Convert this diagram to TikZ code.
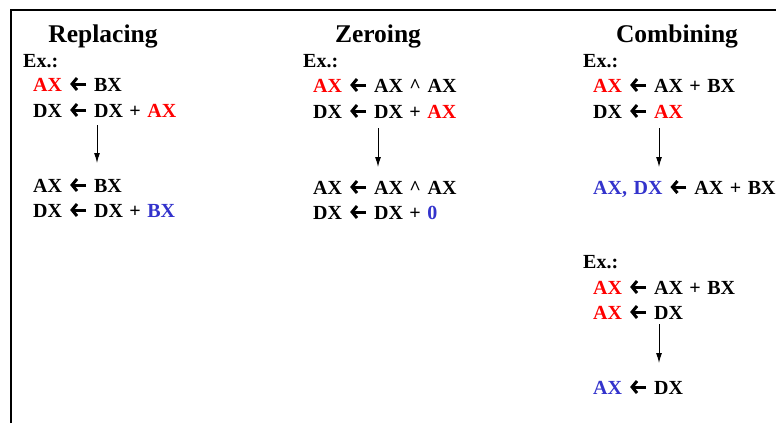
\documentclass[tikz,border=0pt]{standalone}
\usepackage{fontspec}
\setmainfont{Liberation Serif}[WordSpace=1.3]
\usetikzlibrary{arrows.meta}
\definecolor{hot}{RGB}{255,0,0}
\definecolor{cool}{RGB}{51,51,204}
\newcommand{\rd}[1]{\textcolor{hot}{#1}}
\newcommand{\bl}[1]{\textcolor{cool}{#1}}
\newcommand{\lar}{\tikz[baseline={(0pt,-7pt)}]\draw[line width=3pt,-{Straight Barb[length=5pt,width=12pt,line width=3pt]}] (17pt,0pt)--(1pt,0pt);}
\tikzset{head/.style={anchor=base, inner sep=0pt, font=\fontsize{25.5}{30}\selectfont\bfseries}}
\tikzset{code/.style={anchor=base west, inner sep=0pt, font=\fontsize{20}{24}\selectfont\bfseries}}
\tikzset{flow/.style={line width=1pt, -{Latex[length=10pt,width=6pt]}}}
\tikzset{frame/.style={line width=2pt}}

\begin{document}
\begin{tikzpicture}[x=1pt,y=-1pt]

    \useasboundingbox (0,0) rectangle (776,423);
    \draw[frame] (11,423) -- (11,10) -- (776,10);

    % replacing
    \node[head] (rep) at (103,42) {Replacing};
    \node[code] (r0) at (23,67)  {Ex.:};
    \node[code] (r1) at (33,91)  {\rd{AX} \lar\ BX};
    \node[code] (r2) at (33,117) {DX \lar\ DX + \rd{AX}};
    \node[code] (r3) at (33,192) {AX \lar\ BX};
    \node[code] (r4) at (33,217) {DX \lar\ DX + \bl{BX}};
    \coordinate (rt) at (97,125);
    \coordinate (rb) at (97,163);
    \draw[flow] (rt) -- (rb);

    % zeroing
    \node[head] (zer) at (378,42) {Zeroing};
    \node[code] (z0) at (303,67)  {Ex.:};
    \node[code] (z1) at (313,92)  {\rd{AX} \lar\ AX \textasciicircum{} AX};
    \node[code] (z2) at (313,118) {DX \lar\ DX + \rd{AX}};
    \node[code] (z3) at (313,194) {AX \lar\ AX \textasciicircum{} AX};
    \node[code] (z4) at (313,219) {DX \lar\ DX + \bl{0}};
    \coordinate (zt) at (378,128);
    \coordinate (zb) at (378,167);
    \draw[flow] (zt) -- (zb);

    % combining
    \node[head] (com) at (677,42) {Combining};
    \node[code] (c0) at (583,67)  {Ex.:};
    \node[code] (c1) at (593,92)  {\rd{AX} \lar\ AX + BX};
    \node[code] (c2) at (593,118) {DX \lar\ \rd{AX}};
    \node[code] (c3) at (593,194) {\bl{AX, DX} \lar\ AX + BX};
    \coordinate (ct) at (659,128);
    \coordinate (cb) at (659,167);
    \draw[flow] (ct) -- (cb);

    \node[code] (d0) at (583,268) {Ex.:};
    \node[code] (d1) at (593,294) {\rd{AX} \lar\ AX + BX};
    \node[code] (d2) at (593,319) {\rd{AX} \lar\ DX};
    \node[code] (d3) at (593,394) {\bl{AX} \lar\ DX};
    \coordinate (dt) at (659,324);
    \coordinate (db) at (659,363);
    \draw[flow] (dt) -- (db);

\end{tikzpicture}
\end{document}
